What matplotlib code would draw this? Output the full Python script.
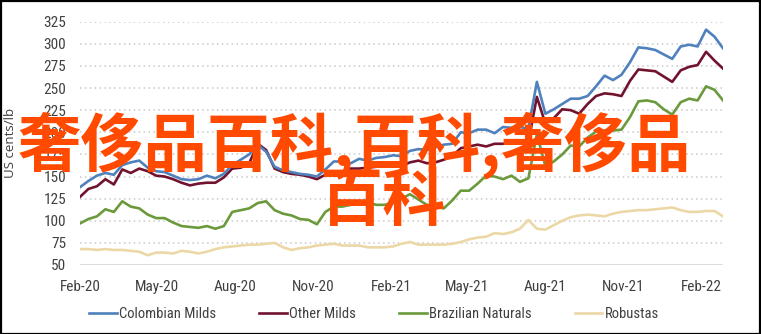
import matplotlib
matplotlib.use("Agg")
import matplotlib.pyplot as plt
import matplotlib.dates as mdates
from matplotlib.patches import Rectangle
from matplotlib import font_manager
import pandas as pd

# ---------------- data ----------------
dates = pd.date_range("2020-02-01", "2022-02-26", periods=77)

colombian = [138, 145, 151, 154, 152, 163, 166, 168, 160, 156,
             155, 151, 147, 146, 147, 151, 148, 153, 163, 169,
             175, 186, 178, 161, 157, 155, 153, 152, 150, 158,
             167, 167, 165, 170, 168, 171, 172, 174, 173, 179,
             181, 180, 183, 186, 187, 200, 199, 203, 203, 199,
             206, 205, 206, 204, 257, 221, 226, 232, 238, 238,
             241, 252, 264, 259, 265, 279, 296, 295, 293, 288,
             283, 297, 299, 297, 316, 308, 295]

other_milds = [127, 136, 139, 147, 141, 158, 154, 159, 156, 151,
               150, 147, 143, 140, 142, 143, 143, 149, 159, 160,
               165, 187, 180, 159, 155, 153, 152, 150, 147, 152,
               154, 155, 159, 159, 160, 161, 162, 163, 162, 166,
               168, 165, 166, 169, 173, 182, 184, 186, 184, 187,
               187, 188, 190, 189, 240, 210, 216, 226, 225, 221,
               232, 241, 244, 243, 241, 258, 271, 270, 269, 263,
               257, 270, 274, 276, 291, 281, 272]

brazilian = [97, 102, 105, 113, 110, 122, 116, 114, 107, 103,
             103, 98, 94, 93, 92, 94, 91, 94, 110, 112,
             114, 120, 122, 112, 108, 106, 102, 101, 96, 110,
             116, 116, 118, 119, 121, 118, 118, 120, 125, 130,
             124, 118, 116, 114, 123, 134, 134, 142, 151, 150,
             147, 151, 144, 148, 198, 162, 167, 175, 185, 184,
             194, 201, 202, 202, 203, 217, 235, 236, 234, 226,
             220, 234, 238, 236, 252, 248, 236]

robustas = [68, 68, 67, 68, 67, 67, 66, 65, 61, 64,
            64, 63, 66, 65, 63, 65, 68, 70, 71, 72,
            73, 73, 74, 75, 70, 67, 69, 70, 72, 73,
            74, 72, 72, 72, 70, 70, 70, 71, 74, 76,
            73, 73, 73, 73, 74, 76, 79, 81, 82, 86,
            85, 87, 91, 101, 91, 90, 95, 100, 104, 106,
            107, 106, 105, 108, 110, 111, 112, 112, 113, 114,
            115, 112, 110, 110, 111, 111, 105]

series_names = ["Colombian Milds", "Other Milds", "Brazilian Naturals", "Robustas"]
series_colors = ["#4f81bd", "#71132f", "#6b9a3c", "#ecd8a6"]
y_ticks = [50, 75, 100, 125, 150, 175, 200, 225, 250, 275, 300, 325]
x_tick_dates = pd.date_range("2020-02-01", "2022-02-01", freq="3MS")
overlay_line1 = "奢侈品百科,百科,奢侈品"
overlay_line2 = "百科"
y_label = "US cents/lb"

# ---------------- fonts ----------------
available = {f.name for f in font_manager.fontManager.ttflist}
cands = ["Liberation Sans Narrow", "Roboto Condensed", "Open Sans Condensed", "Lato", "Roboto"]
base_font = next((c for c in cands if c in available), "DejaVu Sans")
plt.rcParams["font.family"] = [base_font, "DejaVu Sans"]

# ---------------- figure ----------------
W, H = 761, 334
fig = plt.figure(figsize=(W / 100, H / 100), dpi=100)
ax = fig.add_axes([80 / W, 1 - 265 / H, (723 - 80) / W, (265 - 21.7) / H])

all_series = [colombian, other_milds, brazilian, robustas]
order = [3, 2, 1, 0]
lines = {}
for i in order:
    ln, = ax.plot(dates, all_series[i], color=series_colors[i], lw=1.9,
                  label=series_names[i], solid_joinstyle="round", zorder=3 + (3 - i))
    lines[i] = ln

ax.set_xlim(dates[0], dates[-1])
ax.set_ylim(50, 325)
ax.set_yticks(y_ticks)
ax.set_xticks(x_tick_dates)
ax.xaxis.set_major_formatter(mdates.DateFormatter("%b-%y"))

for y in y_ticks[1:]:
    ax.axhline(y, color="#c9c9c9", lw=1.1, linestyle=(0, (1, 2.2)), zorder=1)
ax.axhline(50, color="#d9d9d9", lw=1.3, zorder=2)

for s in ax.spines.values():
    s.set_visible(False)
ax.tick_params(axis="both", length=0, labelsize=11, colors="#404040")
ax.tick_params(axis="y", pad=10)
ax.tick_params(axis="x", pad=11)
ax.set_ylabel(y_label, fontsize=9.5, color="#404040", labelpad=19,
              family=["Open Sans", "DejaVu Sans"])

handles = [lines[i] for i in range(4)]
fig.legend(handles, series_names, loc="center", bbox_to_anchor=(374 / W, 1 - 314 / H),
           ncol=4, frameon=False, fontsize=10.5, handlelength=1.9, handletextpad=0.15,
           columnspacing=2.95, labelcolor="#404040")

# overlay text
fig.text(354 / W, 1 - 145 / H, overlay_line1, ha="center", va="center",
         fontsize=45.5, color="#ff4a00", fontweight="bold",
         family=["Noto Sans CJK SC", "DejaVu Sans"], zorder=10)
fig.text(383 / W, 1 - 201 / H, overlay_line2, ha="center", va="center",
         fontsize=45.5, color="#ff4a00", fontweight="bold",
         family=["Noto Sans CJK SC", "DejaVu Sans"], zorder=10)

fig.patches.append(Rectangle((0.5 / W, 0.5 / H), 1 - 1.5 / W, 1 - 1.5 / H,
                             transform=fig.transFigure, fill=False,
                             edgecolor="black", lw=1.6, zorder=20))

fig.savefig("out.png", dpi=100)
